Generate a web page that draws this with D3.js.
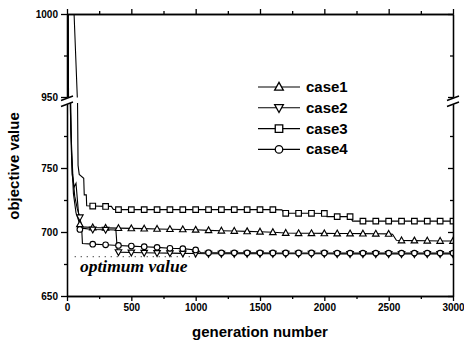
<!DOCTYPE html>
<html><head><meta charset="utf-8">
<script src="https://cdn.jsdelivr.net/npm/d3@7"></script>
<style>body{margin:0;background:#fff}svg{display:block}</style>
</head><body>
<svg id="c" width="464" height="347"></svg>
<script>
// ---------------- data ----------------
const seriesNames = ["case1", "case2", "case3", "case4"];
const seriesSymbols = ["triUp", "triDown", "square", "circle"];

const case1Gen = [0,10,20,35,50,70,100,120,200,300,400,500,600,700,800,900,1000,1100,1200,1300,1400,1500,1600,1700,1800,1900,2000,2100,2200,2300,2400,2500,2530,2560,2600,2700,2800,2900,3000];
const case1Val = [1150,960,850,760,730,715,706,704,703.5,703.2,703,702.8,702.6,702.4,702.2,702,701.7,701.3,701,700.8,700.5,700.2,699.8,699.2,699,699,698.9,698.8,698.8,698.7,698.6,698.5,698.3,693.5,693.4,693.3,693.2,693,693];

const case2Gen = [0,15,30,45,60,80,100,115,200,300,380,392,400,500,600,700,800,900,1000,1100,1200,1300,1400,1500,1600,1700,1800,1900,2000,2100,2200,2300,2400,2500,2600,2700,2800,2900,3000];
const case2Val = [1120,900,780,745,728,718,711.5,703,702,701.8,701.6,684.5,684.3,684,683.8,683.6,683.5,683.3,683.2,683,683,683,683,683,683,683,683,683,683,682.8,682.8,682.8,682.8,682.8,682.8,682.8,682.8,682.8,682.8];

const case3Gen = [0,30,55,80,82,86,95,130,134,150,153,200,300,345,360,400,500,600,700,800,900,1000,1100,1200,1300,1400,1500,1600,1670,1690,1700,1800,1900,2000,2020,2100,2200,2220,2300,2400,2500,2600,2700,2800,2900,3000];
const case3Val = [1250,1080,1000,950,800,752,745,742,729,729,720.5,720.3,720,720,717.7,717.5,717.5,717.5,717.5,717.5,717.5,717.5,717.5,717.5,717.5,717.5,717.5,717.5,717.3,714.6,714.6,714.6,714.6,714.5,712,712,712,708.5,708.5,708.5,708.5,708.5,708.5,708.5,708.5,708.5];

const case4Gen = [0,12,25,40,55,70,85,100,115,120,200,300,400,500,600,700,800,900,1000,1040,1100,1200,1300,1400,1500,1600,1700,1800,1900,2000,2100,2200,2300,2400,2500,2600,2700,2800,2900,3000];
const case4Val = [1100,950,800,745,735,738,720,702,701,691,690.5,690,689.5,689,688.5,688,687.3,687,686,684,683.8,683.7,683.7,683.7,683.7,683.6,683.6,683.6,683.6,683.6,683.5,683.5,683.5,683.5,683.5,683.5,683.5,683.5,683.5,683.5];

const xTicks = [0,500,1000,1500,2000,2500,3000];
const xMinorTicks = [250,750,1250,1750,2250,2750];
const yUpperTicks = [950,1000];
const yUpperMinor = [975];
const yLowerTicks = [650,700,750];
const yLowerMinor = [675,725,775];
const optimumValue = 680.7;
const optimumLabel = "optimum value";
const xTitle = "generation number";
const yTitle = "objective value";

// --------------- layout ---------------
const svg = d3.select("#c");
const L = 67, R = 453, T = 14, B = 296;
const upperBottom = 97, lowerTop = 104;
const x = d3.scaleLinear().domain([0,3000]).range([L,R]);
const yU = d3.scaleLinear().domain([950,1000]).range([upperBottom,T]);
const yL = d3.scaleLinear().domain([650,800]).range([B,lowerTop]);

const defs = svg.append("defs");
defs.append("clipPath").attr("id","clipU").append("rect")
  .attr("x",L).attr("y",T).attr("width",R-L).attr("height",upperBottom+0.5-T);
defs.append("clipPath").attr("id","clipL").append("rect")
  .attr("x",L).attr("y",lowerTop-1).attr("width",R-L).attr("height",B-lowerTop+1);

const series = [
  {gen:case1Gen, val:case1Val},
  {gen:case2Gen, val:case2Val},
  {gen:case3Gen, val:case3Val},
  {gen:case4Gen, val:case4Val}
].map((s,i)=>({name:seriesNames[i], sym:seriesSymbols[i], pts:s.gen.map((g,j)=>[g,s.val[j]])}));

function symPath(sym, s){
  if(sym==="triUp") return `M0,${-s*0.62}L${s*0.58},${s*0.42}L${-s*0.58},${s*0.42}Z`;
  if(sym==="triDown") return `M0,${s*0.62}L${s*0.58},${-s*0.42}L${-s*0.58},${-s*0.42}Z`;
  if(sym==="square") return `M${-s/2},${-s/2}h${s}v${s}h${-s}Z`;
  const r=s/2; return `M${r},0A${r},${r} 0 1,1 ${-r},0A${r},${r} 0 1,1 ${r},0Z`;
}

// draw data in both segments
[[yU,"clipU"],[yL,"clipL"]].forEach(([ys,clip])=>{
  const g = svg.append("g").attr("clip-path",`url(#${clip})`);
  const line = d3.line().x(d=>x(d[0])).y(d=>ys(d[1]));
  series.forEach(s=>{
    g.append("path").attr("d",line(s.pts)).attr("fill","none").attr("stroke","#000").attr("stroke-width",1.1);
  });
  series.forEach(s=>{
    g.selectAll(null).data(s.pts.filter(p=>p[0]>0 && p[0]%100===0)).enter()
      .append("path").attr("d",symPath(s.sym,5.6))
      .attr("transform",d=>`translate(${x(d[0])},${ys(d[1])})`)
      .attr("fill","#fff").attr("stroke","#000").attr("stroke-width",1.15);
  });
});

// optimum line
svg.append("line").attr("x1",x(60)).attr("x2",x(1000)).attr("y1",yL(optimumValue)).attr("y2",yL(optimumValue))
  .attr("stroke","#000").attr("stroke-width",1).attr("stroke-dasharray","1,5");
svg.append("text").attr("x",80).attr("y",272).text(optimumLabel)
  .attr("font-family","'Liberation Serif','Times New Roman',serif").attr("font-style","italic")
  .attr("font-weight","bold").attr("font-size",17.5).attr("fill","#000");

// ---------------- axes ----------------
const tickFont = g => g.selectAll("text").attr("font-family","'Liberation Sans',Arial,sans-serif")
  .attr("font-weight","bold").attr("font-size",10).attr("fill","#000");
const axStyle = g => { g.selectAll("path,line").attr("stroke","#000").attr("stroke-width",1.3); };

// bottom
svg.append("g").attr("transform",`translate(0,${B})`)
  .call(d3.axisBottom(x).tickValues(xTicks).tickSize(5).tickSizeOuter(0).tickPadding(3).tickFormat(d3.format("d")))
  .call(axStyle).call(tickFont);
svg.append("g").attr("transform",`translate(0,${B})`)
  .call(d3.axisBottom(x).tickValues(xMinorTicks).tickSize(3).tickSizeOuter(0).tickFormat(""))
  .call(axStyle);
// top
svg.append("g").attr("transform",`translate(0,${T})`)
  .call(d3.axisTop(x).tickValues(xTicks).tickSize(5).tickSizeOuter(0).tickFormat(""))
  .call(axStyle);
svg.append("g").attr("transform",`translate(0,${T})`)
  .call(d3.axisTop(x).tickValues(xMinorTicks).tickSize(3).tickSizeOuter(0).tickFormat(""))
  .call(axStyle);
// left upper & lower
[[yU,yUpperTicks,yUpperMinor],[yL,yLowerTicks,yLowerMinor]].forEach(([ys,maj,mn])=>{
  svg.append("g").attr("transform",`translate(${L},0)`)
    .call(d3.axisLeft(ys).tickValues(maj).tickSize(6).tickSizeOuter(0).tickPadding(3).tickFormat(d3.format("d")))
    .call(axStyle).call(tickFont);
  svg.append("g").attr("transform",`translate(${L},0)`)
    .call(d3.axisLeft(ys).tickValues(mn).tickSize(3).tickSizeOuter(0).tickFormat(""))
    .call(axStyle);
  // right (inward ticks)
  svg.append("g").attr("transform",`translate(${R},0)`)
    .call(d3.axisLeft(ys).tickValues(maj).tickSize(5).tickSizeOuter(0).tickFormat(""))
    .call(axStyle);
  svg.append("g").attr("transform",`translate(${R},0)`)
    .call(d3.axisLeft(ys).tickValues(mn).tickSize(3).tickSizeOuter(0).tickFormat(""))
    .call(axStyle);
});

// axis break marks
function breakMark(cx){
  const a=[cx-6,upperBottom+3.5], b=[cx+6,upperBottom-1], c=[cx+6,lowerTop-2], d=[cx-6,lowerTop+2.5];
  svg.append("path").attr("d",`M${a}L${b}L${c}L${d}Z`).attr("fill","#fff").attr("stroke","none");
  svg.append("path").attr("d",`M${a}L${b}M${d}L${c}`).attr("stroke","#000").attr("stroke-width",1.4).attr("fill","none");
}
breakMark(L); breakMark(R);

// titles
svg.append("text").attr("x",(L+R)/2).attr("y",337).attr("text-anchor","middle").text(xTitle)
  .attr("font-family","'Liberation Sans',Arial,sans-serif").attr("font-weight","bold").attr("font-size",15);
svg.append("text").attr("transform","translate(19,166) rotate(-90)").attr("text-anchor","middle").text(yTitle)
  .attr("font-family","'Liberation Sans',Arial,sans-serif").attr("font-weight","bold").attr("font-size",15);

// legend
const leg = svg.append("g");
series.forEach((s,i)=>{
  const ly = 87 + i*20.8;
  leg.append("line").attr("x1",258).attr("x2",300).attr("y1",ly).attr("y2",ly).attr("stroke","#000").attr("stroke-width",1.1);
  leg.append("path").attr("d",symPath(s.sym,7.5)).attr("transform",`translate(279,${ly})`)
    .attr("fill","#fff").attr("stroke","#000").attr("stroke-width",1.3);
  leg.append("text").attr("x",306).attr("y",ly+5).text(s.name)
    .attr("font-family","'Liberation Sans',Arial,sans-serif").attr("font-weight","bold").attr("font-size",15);
});
</script>
</body></html>
